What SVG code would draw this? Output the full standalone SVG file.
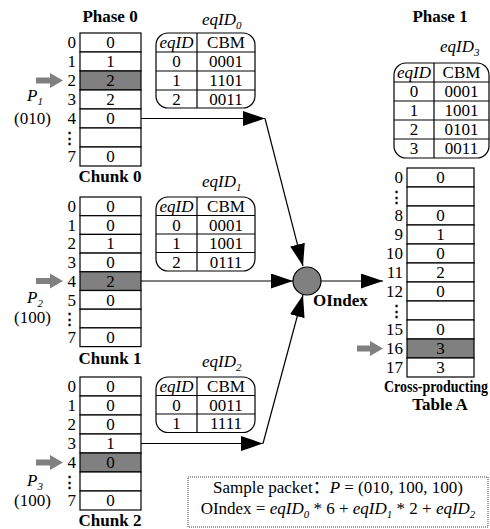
<svg xmlns="http://www.w3.org/2000/svg" width="490" height="529" viewBox="0 0 490 529">
<defs>
<marker id="ah" markerUnits="userSpaceOnUse" markerWidth="22" markerHeight="16" refX="22" refY="7.5" orient="auto">
<path d="M0,0 L22,7.5 L0,15 z" fill="#000"/>
</marker>
<style>
text{font-family:'Liberation Serif','Tinos','Noto Serif','DejaVu Serif',serif;font-size:17px;font-weight:normal;fill:#000}
.cjk{font-family:'Noto Sans CJK SC',sans-serif}
.c{text-anchor:middle}
.r{text-anchor:end}
.b{font-weight:bold}
.i{font-style:italic}
.cell{fill:#fff;stroke:#000;stroke-width:1.2}
.hl{fill:#808080;stroke:#000;stroke-width:1.2}
.tb{fill:#fff;stroke:#000;stroke-width:1.2}
.ln{stroke:#000;stroke-width:1.2;fill:none}
.con{stroke:#000;stroke-width:1.2;fill:none}
.ga{fill:#808080}
.dots{font-family:'DejaVu Serif',serif;font-size:15px;font-weight:bold}
.sub{font-size:11px}
</style>
</defs>

<g id="titles">
<text class="c b" x="110" y="22" font-size="18">Phase 0</text>
<text class="c b" x="440" y="22" font-size="18">Phase 1</text>
</g>

<g id="chunk0">
<rect class="cell" x="80" y="33" width="61" height="19"/>
<rect class="cell" x="80" y="52" width="61" height="19"/>
<rect class="hl" x="80" y="71" width="61" height="19"/>
<rect class="cell" x="80" y="90" width="61" height="19"/>
<rect class="cell" x="80" y="109" width="61" height="19"/>
<rect class="cell" x="80" y="128" width="61" height="19"/>
<rect class="cell" x="80" y="147" width="61" height="19"/>
<text class="c" x="110.5" y="48">0</text>
<text class="c" x="110.5" y="67">1</text>
<text class="c" x="110.5" y="86">2</text>
<text class="c" x="110.5" y="105">2</text>
<text class="c" x="110.5" y="124">0</text>
<text class="c" x="110.5" y="162">0</text>
<text class="r" x="76" y="48">0</text>
<text class="r" x="76" y="67">1</text>
<text class="r" x="76" y="86">2</text>
<text class="r" x="76" y="105">3</text>
<text class="r" x="76" y="124">4</text>
<text class="c dots" x="69" y="143">⋮</text>
<text class="r" x="76" y="162">7</text>
<text class="c b" x="110" y="182">Chunk 0</text>
<polygon class="ga" points="36,77.5 50,77.5 50,73 63,80.5 50,88 50,83.5 36,83.5"/>
<text x="27" y="101" class="i">P<tspan class="sub" dy="4">1</tspan></text>
<text x="14" y="124">(010)</text>
</g>

<g id="chunk1">
<rect class="cell" x="80" y="197" width="61" height="18.7"/>
<rect class="cell" x="80" y="215.7" width="61" height="18.7"/>
<rect class="cell" x="80" y="234.4" width="61" height="18.7"/>
<rect class="cell" x="80" y="253.1" width="61" height="18.7"/>
<rect class="hl" x="80" y="271.8" width="61" height="18.7"/>
<rect class="cell" x="80" y="290.5" width="61" height="18.7"/>
<rect class="cell" x="80" y="309.2" width="61" height="18.7"/>
<rect class="cell" x="80" y="327.9" width="61" height="18.7"/>
<text class="c" x="110.5" y="212">0</text>
<text class="c" x="110.5" y="230.7">0</text>
<text class="c" x="110.5" y="249.4">1</text>
<text class="c" x="110.5" y="268.1">0</text>
<text class="c" x="110.5" y="286.8">2</text>
<text class="c" x="110.5" y="305.5">0</text>
<text class="c" x="110.5" y="342.9">0</text>
<text class="r" x="76" y="212">0</text>
<text class="r" x="76" y="230.7">1</text>
<text class="r" x="76" y="249.4">2</text>
<text class="r" x="76" y="268.1">3</text>
<text class="r" x="76" y="286.8">4</text>
<text class="r" x="76" y="305.5">5</text>
<text class="c dots" x="69" y="324">⋮</text>
<text class="r" x="76" y="342.9">7</text>
<text class="c b" x="110" y="364">Chunk 1</text>
<polygon class="ga" points="36,278 50,278 50,273.5 63,281 50,288.5 50,284 36,284"/>
<text x="27" y="303" class="i">P<tspan class="sub" dy="4">2</tspan></text>
<text x="14" y="323">(100)</text>
</g>

<g id="chunk2">
<rect class="cell" x="80" y="377" width="61" height="19"/>
<rect class="cell" x="80" y="396" width="61" height="19"/>
<rect class="cell" x="80" y="415" width="61" height="19"/>
<rect class="cell" x="80" y="434" width="61" height="19"/>
<rect class="hl" x="80" y="453" width="61" height="19"/>
<rect class="cell" x="80" y="472" width="61" height="19"/>
<rect class="cell" x="80" y="491" width="61" height="19"/>
<text class="c" x="110.5" y="392">0</text>
<text class="c" x="110.5" y="411">0</text>
<text class="c" x="110.5" y="430">0</text>
<text class="c" x="110.5" y="449">1</text>
<text class="c" x="110.5" y="468">0</text>
<text class="c" x="110.5" y="506">0</text>
<text class="r" x="76" y="392">0</text>
<text class="r" x="76" y="411">1</text>
<text class="r" x="76" y="430">2</text>
<text class="r" x="76" y="449">3</text>
<text class="r" x="76" y="468">4</text>
<text class="c dots" x="69" y="487">⋮</text>
<text class="r" x="76" y="506">7</text>
<text class="c b" x="110" y="526">Chunk 2</text>
<polygon class="ga" points="36,459.5 50,459.5 50,455 63,462.5 50,470 50,465.5 36,465.5"/>
<text x="27" y="486" class="i">P<tspan class="sub" dy="4">3</tspan></text>
<text x="14" y="506">(100)</text>
</g>

<g id="eqid0">
<text x="202" y="25" class="i">eqID<tspan class="sub" dy="4">0</tspan></text>
<rect class="tb" x="156" y="33" width="99" height="75" rx="12"/>
<path class="ln" d="M156,52 H255 M156,71 H255 M156,90 H255 M197,33 V108"/>
<text class="c i" x="176.5" y="48">eqID</text>
<text class="c" x="226" y="48">CBM</text>
<text class="c" x="176.5" y="67">0</text><text class="c" x="226" y="67">0001</text>
<text class="c" x="176.5" y="86">1</text><text class="c" x="226" y="86">1101</text>
<text class="c" x="176.5" y="105">2</text><text class="c" x="226" y="105">0011</text>
</g>

<g id="eqid1">
<text x="202" y="187" class="i">eqID<tspan class="sub" dy="4">1</tspan></text>
<rect class="tb" x="156" y="197" width="99" height="74" rx="12"/>
<path class="ln" d="M156,215.5 H255 M156,234 H255 M156,252.5 H255 M197,197 V271"/>
<text class="c i" x="176.5" y="212">eqID</text>
<text class="c" x="226" y="212">CBM</text>
<text class="c" x="176.5" y="230.5">0</text><text class="c" x="226" y="230.5">0001</text>
<text class="c" x="176.5" y="249">1</text><text class="c" x="226" y="249">1001</text>
<text class="c" x="176.5" y="267.5">2</text><text class="c" x="226" y="267.5">0111</text>
</g>

<g id="eqid2">
<text x="202" y="367" class="i">eqID<tspan class="sub" dy="4">2</tspan></text>
<rect class="tb" x="156" y="377" width="99" height="55.5" rx="12"/>
<path class="ln" d="M156,395.5 H255 M156,414 H255 M197,377 V432.5"/>
<text class="c i" x="176.5" y="392">eqID</text>
<text class="c" x="226" y="392">CBM</text>
<text class="c" x="176.5" y="410.5">0</text><text class="c" x="226" y="410.5">0011</text>
<text class="c" x="176.5" y="429">1</text><text class="c" x="226" y="429">1111</text>
</g>

<g id="eqid3">
<text x="440" y="52" class="i">eqID<tspan class="sub" dy="4">3</tspan></text>
<rect class="tb" x="394" y="63" width="95" height="95" rx="12"/>
<path class="ln" d="M394,82 H489 M394,101 H489 M394,120 H489 M394,139 H489 M434,63 V158"/>
<text class="c i" x="414" y="78">eqID</text>
<text class="c" x="461.5" y="78">CBM</text>
<text class="c" x="414" y="97">0</text><text class="c" x="461.5" y="97">0001</text>
<text class="c" x="414" y="116">1</text><text class="c" x="461.5" y="116">1001</text>
<text class="c" x="414" y="135">2</text><text class="c" x="461.5" y="135">0101</text>
<text class="c" x="414" y="154">3</text><text class="c" x="461.5" y="154">0011</text>
</g>

<g id="tableA">
<rect class="cell" x="407" y="168" width="67" height="19"/>
<rect class="cell" x="407" y="187" width="67" height="19"/>
<rect class="cell" x="407" y="206" width="67" height="19"/>
<rect class="cell" x="407" y="225" width="67" height="19"/>
<rect class="cell" x="407" y="244" width="67" height="19"/>
<rect class="cell" x="407" y="263" width="67" height="19"/>
<rect class="cell" x="407" y="282" width="67" height="19"/>
<rect class="cell" x="407" y="301" width="67" height="19"/>
<rect class="cell" x="407" y="320" width="67" height="19"/>
<rect class="hl" x="407" y="339" width="67" height="19"/>
<rect class="cell" x="407" y="358" width="67" height="19"/>
<text class="c" x="440.5" y="183">0</text>
<text class="c" x="440.5" y="221">0</text>
<text class="c" x="440.5" y="240">1</text>
<text class="c" x="440.5" y="259">0</text>
<text class="c" x="440.5" y="278">2</text>
<text class="c" x="440.5" y="297">0</text>
<text class="c" x="440.5" y="335">0</text>
<text class="c" x="440.5" y="354">3</text>
<text class="c" x="440.5" y="373">3</text>
<text class="r" x="403" y="183">0</text>
<text class="c dots" x="396" y="202">⋮</text>
<text class="r" x="403" y="221">8</text>
<text class="r" x="403" y="240">9</text>
<text class="r" x="403" y="259">10</text>
<text class="r" x="403" y="278">11</text>
<text class="r" x="403" y="297">12</text>
<text class="c dots" x="396" y="316">⋮</text>
<text class="r" x="403" y="335">15</text>
<text class="r" x="403" y="354">16</text>
<text class="r" x="403" y="373">17</text>
<polygon class="ga" points="357,345.5 370,345.5 370,341 383,348.5 370,356 370,351.5 357,351.5"/>
<text class="b" x="384" y="392" font-size="14" textLength="104" lengthAdjust="spacingAndGlyphs">Cross-producting</text>
<text class="c b" x="440" y="410" font-size="16">Table A</text>
</g>

<g id="oindex">
<circle cx="307" cy="281" r="14" fill="#808080" stroke="#000" stroke-width="1.2"/>
<text class="b" x="313" y="306">OIndex</text>
</g>

<g id="connectors">
<path class="con" d="M141,118.5 H265" marker-end="url(#ah)"/>
<path class="con" d="M265,118.5 L303,266" marker-end="url(#ah)"/>
<path class="con" d="M141,281 H293" marker-end="url(#ah)"/>
<path class="con" d="M141,443.5 H263" marker-end="url(#ah)"/>
<path class="con" d="M263,443.5 L303,295" marker-end="url(#ah)"/>
<path class="con" d="M321,281 H383" marker-end="url(#ah)"/>
</g>

<g id="sample">
<rect x="188" y="477" width="300" height="50" fill="#fff" stroke="#444" stroke-width="1" stroke-dasharray="1,1"/>
<text class="c" x="338" y="493" font-size="16">Sample packet<tspan class="cjk">：</tspan><tspan class="i">P</tspan> = (010, 100, 100)</text>
<text class="c" x="338" y="514" font-size="16">OIndex = <tspan class="i">eqID</tspan><tspan class="i sub" dy="4">0</tspan><tspan dy="-4"> * 6 + </tspan><tspan class="i">eqID</tspan><tspan class="i sub" dy="4">1</tspan><tspan dy="-4"> * 2 + </tspan><tspan class="i">eqID</tspan><tspan class="i sub" dy="4">2</tspan></text>
</g>
</svg>
